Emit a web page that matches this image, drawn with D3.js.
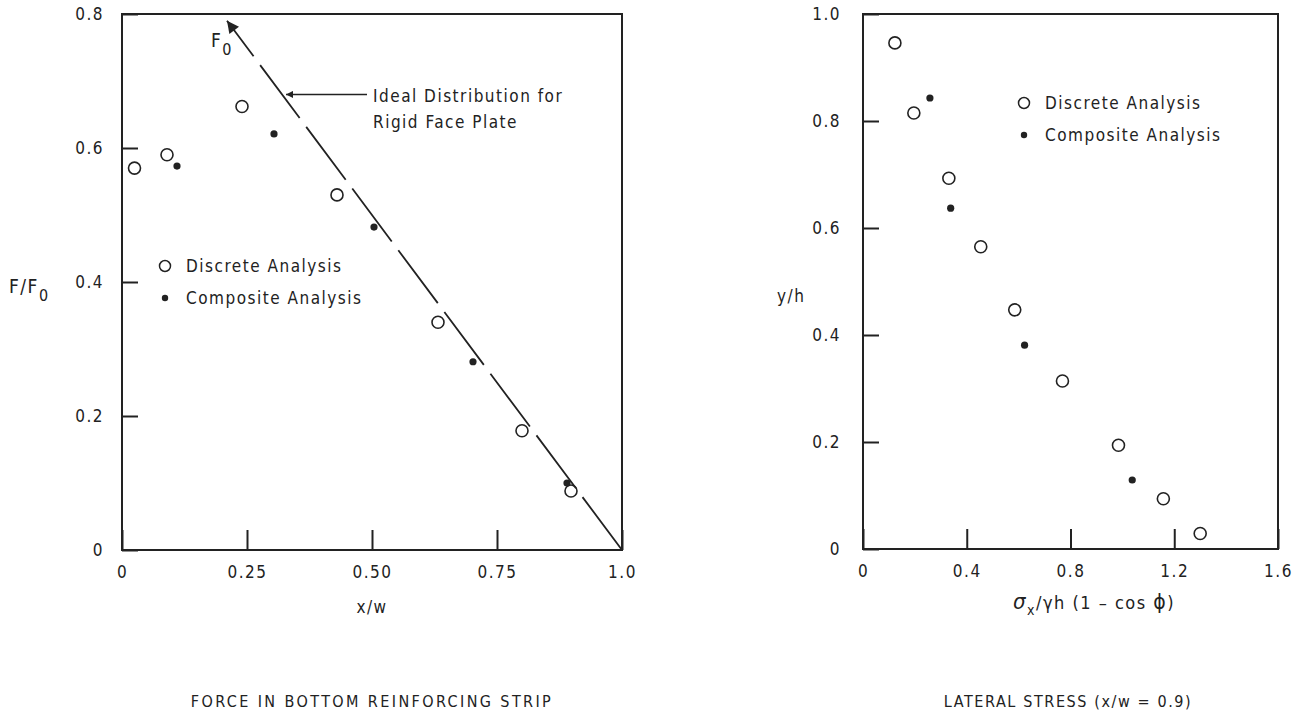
<!DOCTYPE html>
<html>
<head>
<meta charset="utf-8">
<script src="https://cdn.jsdelivr.net/npm/d3@7"></script>
<style>
  body { margin: 0; background: #fff; }
  svg text { font-family: "Liberation Sans Narrow", "DejaVu Sans Condensed", sans-serif; fill: #222; letter-spacing: 1.5px; }
</style>
</head>
<body>
<svg width="1311" height="726"></svg>
<script>
// left panel: force in bottom reinforcing strip
const leftXTicks = [0, 0.25, 0.5, 0.75, 1.0];
const leftXLabels = ['0', '0.25', '0.50', '0.75', '1.0'];
const leftYTicks = [0, 0.2, 0.4, 0.6, 0.8];
const leftYLabels = ['0', '0.2', '0.4', '0.6', '0.8'];
const leftDiscrete = [
  [0.025, 0.57], [0.09, 0.59], [0.24, 0.662], [0.43, 0.53],
  [0.632, 0.34], [0.80, 0.178], [0.898, 0.088]
];
const leftComposite = [
  [0.11, 0.573], [0.304, 0.621], [0.504, 0.482], [0.702, 0.281], [0.89, 0.10]
];
// ideal distribution for rigid face plate, drawn as arrow toward F0
const idealLine = [[1.0, 0], [0.21, 0.79]];

// right panel: lateral stress
const rightXTicks = [0, 0.4, 0.8, 1.2, 1.6];
const rightXLabels = ['0', '0.4', '0.8', '1.2', '1.6'];
const rightYTicks = [0, 0.2, 0.4, 0.6, 0.8, 1.0];
const rightYLabels = ['0', '0.2', '0.4', '0.6', '0.8', '1.0'];
const rightDiscrete = [
  [0.123, 0.946], [0.196, 0.815], [0.331, 0.693], [0.454, 0.565], [0.585, 0.447],
  [0.769, 0.314], [0.985, 0.194], [1.158, 0.094], [1.30, 0.029]
];
const rightComposite = [
  [0.258, 0.843], [0.338, 0.637], [0.623, 0.381], [1.038, 0.129]
];

const svg = d3.select('svg');
const ink = '#222';
const fam = '"Liberation Sans Narrow", "DejaVu Sans Condensed", sans-serif';

svg.append('defs').append('marker')
  .attr('id', 'head')
  .attr('viewBox', '0 0 10 10')
  .attr('refX', 10).attr('refY', 5)
  .attr('markerWidth', 11).attr('markerHeight', 7)
  .attr('markerUnits', 'userSpaceOnUse')
  .attr('orient', 'auto')
  .append('path').attr('d', 'M0,0 L10,5 L0,10 z').attr('fill', ink);

svg.append('marker')
  .attr('id', 'bighead')
  .attr('viewBox', '0 0 10 10')
  .attr('refX', 10).attr('refY', 5)
  .attr('markerWidth', 24).attr('markerHeight', 12)
  .attr('markerUnits', 'userSpaceOnUse')
  .attr('orient', 'auto')
  .append('path').attr('d', 'M0,0 L10,5 L0,10 z').attr('fill', ink);

function panel(opt) {
  const x = d3.scaleLinear().domain(opt.xDomain).range([opt.left, opt.right]);
  const y = d3.scaleLinear().domain(opt.yDomain).range([opt.bottom, opt.top]);
  const g = svg.append('g');

  // frame
  g.append('rect')
    .attr('x', opt.left).attr('y', opt.top)
    .attr('width', opt.right - opt.left).attr('height', opt.bottom - opt.top)
    .attr('fill', 'none').attr('stroke', ink).attr('stroke-width', 2);

  const xAxis = d3.axisBottom(x).tickValues(opt.xTicks)
    .tickFormat((d, i) => opt.xLabels[i])
    .tickSizeInner(-20).tickSizeOuter(0).tickPadding(16);
  const yAxis = d3.axisLeft(y).tickValues(opt.yTicks)
    .tickFormat((d, i) => opt.yLabels[i])
    .tickSizeInner(-16).tickSizeOuter(0).tickPadding(opt.yPad);

  const gx = g.append('g').attr('transform', `translate(0,${opt.bottom})`).call(xAxis);
  const gy = g.append('g').attr('transform', `translate(${opt.left},0)`).call(yAxis);
  [gx, gy].forEach(a => {
    a.select('.domain').remove();
    a.selectAll('line').attr('stroke', ink).attr('stroke-width', 2);
    a.selectAll('text').attr('font-size', 17).attr('fill', ink)
      .style('font-family', fam);
  });

  // points
  g.selectAll('.disc').data(opt.discrete).join('circle')
    .attr('cx', d => x(d[0])).attr('cy', d => y(d[1])).attr('r', 6)
    .attr('fill', '#fff').attr('stroke', ink).attr('stroke-width', 1.6);
  g.selectAll('.comp').data(opt.composite).join('circle')
    .attr('cx', d => x(d[0])).attr('cy', d => y(d[1])).attr('r', 3.6)
    .attr('fill', ink);

  // legend
  const lg = g.append('g').attr('transform', `translate(${opt.legend[0]},${opt.legend[1]})`);
  lg.append('circle').attr('cx', 0).attr('cy', 0).attr('r', 5.5)
    .attr('fill', '#fff').attr('stroke', ink).attr('stroke-width', 1.5);
  lg.append('text').attr('x', 21).attr('y', 6).attr('font-size', 17).text('Discrete Analysis');
  lg.append('circle').attr('cx', 0).attr('cy', 32).attr('r', 3.2).attr('fill', ink);
  lg.append('text').attr('x', 21).attr('y', 38).attr('font-size', 17).text('Composite Analysis');

  return { x, y, g };
}

const L = panel({
  left: 122, right: 622, top: 14, bottom: 550,
  xDomain: [0, 1.0], yDomain: [0, 0.8],
  xTicks: leftXTicks, xLabels: leftXLabels,
  yTicks: leftYTicks, yLabels: leftYLabels, yPad: 18,
  discrete: leftDiscrete, composite: leftComposite,
  legend: [165, 266]
});

const R = panel({
  left: 863, right: 1278, top: 14, bottom: 549,
  xDomain: [0, 1.6], yDomain: [0, 1.0],
  xTicks: rightXTicks, xLabels: rightXLabels,
  yTicks: rightYTicks, yLabels: rightYLabels, yPad: 22,
  discrete: rightDiscrete, composite: rightComposite,
  legend: [1024, 103]
});

// ideal distribution line (long dashes) with arrow to F0
L.g.append('line')
  .attr('x1', L.x(idealLine[0][0])).attr('y1', L.y(idealLine[0][1]))
  .attr('x2', L.x(idealLine[1][0])).attr('y2', L.y(idealLine[1][1]))
  .attr('stroke', ink).attr('stroke-width', 1.8)
  .attr('stroke-dasharray', '66,11')
  .attr('marker-end', 'url(#bighead)');

// F0 label
const f0 = L.g.append('text').attr('x', 211).attr('y', 47).attr('font-size', 19);
f0.append('tspan').text('F');
f0.append('tspan').attr('dy', 8).attr('font-size', 16).text('0');

// annotation arrow pointing to the line
const annY = 0.68;
L.g.append('line')
  .attr('x1', L.x(0.49)).attr('y1', L.y(annY))
  .attr('x2', L.x(1 - annY) + 4).attr('y2', L.y(annY))
  .attr('stroke', ink).attr('stroke-width', 1.5)
  .attr('marker-end', 'url(#head)');
L.g.append('text').attr('x', 373).attr('y', 102).attr('font-size', 17).text('Ideal Distribution for');
L.g.append('text').attr('x', 373).attr('y', 128).attr('font-size', 17).text('Rigid Face Plate');

// axis labels
const fl = svg.append('text').attr('x', 9).attr('y', 293).attr('font-size', 19);
fl.append('tspan').text('F/F');
fl.append('tspan').attr('dy', 8).attr('font-size', 16).text('0');

svg.append('text').attr('x', 372).attr('y', 613).attr('text-anchor', 'middle')
  .attr('font-size', 17).text('x/w');

svg.append('text').attr('x', 777).attr('y', 302).attr('font-size', 17).text('y/h');

const sl = svg.append('text').attr('x', 1013).attr('y', 609).attr('font-size', 18);
sl.append('tspan').attr('font-style', 'italic').attr('font-size', 22).text('σ');
sl.append('tspan').attr('dy', 6).attr('font-size', 14).text('x');
sl.append('tspan').attr('dy', -6).text('/γh (1 – cos ');
sl.append('tspan').attr('font-size', 21).text('ϕ');
sl.append('tspan').text(')');

// panel titles
svg.append('text').attr('x', 372).attr('y', 707).attr('text-anchor', 'middle')
  .attr('font-size', 16).style('letter-spacing', '2.4px').text('FORCE IN BOTTOM REINFORCING STRIP');
svg.append('text').attr('x', 1068).attr('y', 707).attr('text-anchor', 'middle')
  .attr('font-size', 16).style('letter-spacing', '1.6px').text('LATERAL STRESS (x/w = 0.9)');
</script>
</body>
</html>
